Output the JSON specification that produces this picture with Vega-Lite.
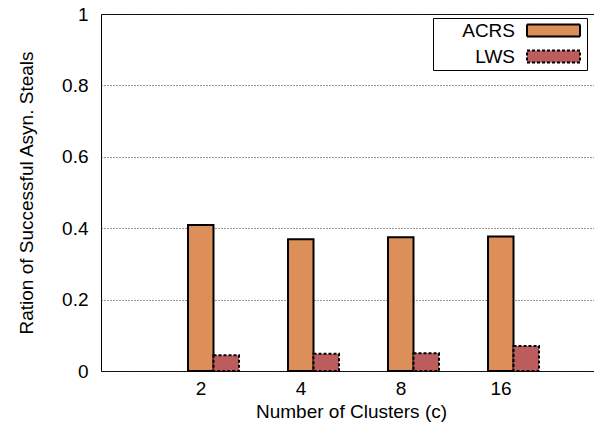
{
  "$schema": "https://vega.github.io/schema/vega-lite/v6.json",
  "autosize": "none",
  "padding": {"left": 101, "top": 14, "right": 0, "bottom": 59},
  "width": 500,
  "height": 357,
  "background": "white",
  "data": {
    "values": [
      {"clusters": "2", "method": "ACRS", "ratio": 0.409},
      {"clusters": "2", "method": "LWS", "ratio": 0.044},
      {"clusters": "4", "method": "ACRS", "ratio": 0.369},
      {"clusters": "4", "method": "LWS", "ratio": 0.048},
      {"clusters": "8", "method": "ACRS", "ratio": 0.375},
      {"clusters": "8", "method": "LWS", "ratio": 0.05},
      {"clusters": "16", "method": "ACRS", "ratio": 0.377},
      {"clusters": "16", "method": "LWS", "ratio": 0.07}
    ]
  },
  "mark": {"type": "bar", "stroke": "black", "strokeWidth": 2, "opacity": 1},
  "encoding": {
    "x": {
      "field": "clusters",
      "type": "nominal",
      "sort": ["2", "4", "8", "16"],
      "scale": {"paddingInner": 0, "paddingOuter": 0.5},
      "axis": {"title": "Number of Clusters (c)", "labelAngle": 0, "labelPadding": 8, "titlePadding": 4, "grid": false}
    },
    "xOffset": {
      "field": "method",
      "type": "nominal",
      "scale": {"domain": ["ACRS", "LWS"], "range": [37, 88], "paddingInner": 0, "paddingOuter": 0}
    },
    "y": {
      "field": "ratio",
      "type": "quantitative",
      "scale": {"domain": [0, 1], "nice": false},
      "axis": {
        "title": "Ration of Successful Asyn. Steals",
        "values": [0, 0.2, 0.4, 0.6, 0.8, 1],
        "format": "~g",
        "grid": true,
        "gridDash": [1, 2],
        "gridColor": "#333",
        "gridWidth": 1,
        "labelPadding": 13,
        "titlePadding": 25
      }
    },
    "strokeDash": {
      "field": "method",
      "type": "nominal",
      "scale": {"domain": ["ACRS", "LWS"], "range": [[1, 0], [3, 2]]},
      "legend": null
    },
    "color": {
      "field": "method",
      "type": "nominal",
      "scale": {"domain": ["ACRS", "LWS"], "range": ["#dd8f59", "#bc5c5c"]},
      "legend": {
        "title": null,
        "encode": {
          "symbols": {
            "update": {
              "stroke": {"value": "black"},
              "strokeWidth": {"value": 2},
              "strokeDash": {"signal": "datum.value === 'LWS' ? [3, 2] : [1, 0]"},
              "opacity": {"value": 1},
              "fillOpacity": {"value": 1}
            }
          },
          "labels": {
            "update": {
              "x": {"value": 79},
              "align": {"value": "right"}
            }
          }
        }
      }
    }
  },
  "config": {
    "view": {"stroke": "black", "strokeWidth": 1},
    "axis": {
      "labelFont": "Liberation Sans",
      "titleFont": "Liberation Sans",
      "labelFontSize": 19,
      "titleFontSize": 19,
      "titleFontWeight": "normal",
      "labelColor": "black",
      "titleColor": "black",
      "domain": false,
      "ticks": false,
      "tickSize": 0
    },
    "legend": {
      "orient": "none",
      "legendX": 332,
      "legendY": 4,
      "strokeColor": "black",
      "strokeWidth": 1,
      "fillColor": "white",
      "padding": 3,
      "symbolType": "M-5.3,-1.2H5.3V1.2H-5.3Z",
      "symbolSize": 100,
      "symbolStrokeColor": "black",
      "symbolStrokeWidth": 2,
      "symbolOpacity": 1,
      "symbolOffset": 108,
      "rowPadding": 5,
      "labelFont": "Liberation Sans",
      "labelFontSize": 19,
      "labelColor": "black"
    }
  }
}
